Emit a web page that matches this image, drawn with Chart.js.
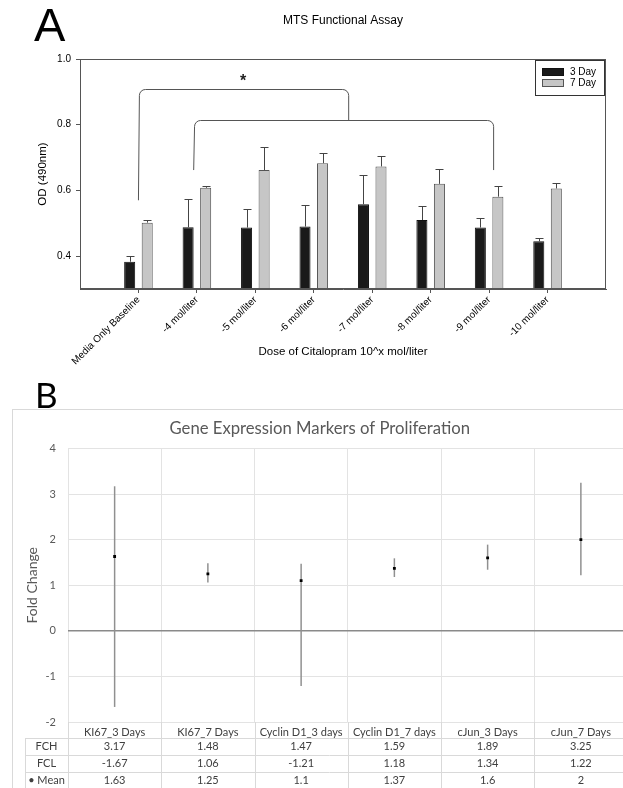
<!DOCTYPE html>
<html><head><meta charset="utf-8">
<script src="https://cdn.jsdelivr.net/npm/chart.js@4.4.1/dist/chart.umd.min.js"></script>
<style>
html,body{margin:0;padding:0;background:#fff;}
body{width:623px;height:788px;overflow:hidden;position:relative;}
#ca{position:absolute;left:0;top:0;}
#cb{position:absolute;left:12px;top:409px;}
.lt{position:absolute;line-height:1;color:#000;}
</style></head><body>
<canvas id="ca" width="623" height="380"></canvas>
<canvas id="cb" width="622" height="379"></canvas>
<div class="lt" style="left:34px;top:1px;font-family:'Liberation Sans',Arial,sans-serif;font-size:47px;">A</div>
<div class="lt" style="left:35px;top:377px;font-family:Lato,sans-serif;font-size:35px;">B</div>
<script>
// ---------- Panel A data ----------
const doseLabels = ['Media Only Baseline','-4 mol/liter','-5 mol/liter','-6 mol/liter','-7 mol/liter','-8 mol/liter','-9 mol/liter','-10 mol/liter'];
const day3Values = [0.383,0.488,0.487,0.490,0.558,0.510,0.487,0.445];
const day3Errors = [0.016,0.087,0.055,0.066,0.090,0.043,0.028,0.009];
const day7Values = [0.502,0.608,0.662,0.683,0.673,0.620,0.581,0.606];
const day7Errors = [0.009,0.006,0.071,0.032,0.032,0.045,0.032,0.016];
const yTicksA = [0.4,0.6,0.8,1.0];

// ---------- Panel B data ----------
const geneLabels = ['KI67_3 Days','KI67_7 Days','Cyclin D1_3 days','Cyclin D1_7 days','cJun_3 Days','cJun_7 Days'];
const fchValues = [3.17,1.48,1.47,1.59,1.89,3.25];
const fclValues = [-1.67,1.06,-1.21,1.18,1.34,1.22];
const meanValues = [1.63,1.25,1.1,1.37,1.6,2];

const ARIAL = "'Liberation Sans', Arial, sans-serif";
const CAL = "Lato, 'Open Sans', sans-serif";

const framePlugin = {
  id: 'frame',
  afterDraw(chart) {
    const {ctx, chartArea: ca} = chart;
    ctx.save();
    ctx.strokeStyle = '#555'; ctx.lineWidth = 1;
    ctx.strokeRect(Math.round(ca.left) + 0.5, Math.round(ca.top) + 0.5, Math.round(ca.width) - 1, Math.round(ca.height) - 1);
    ctx.restore();
  }
};

const errorBarPlugin = {
  id: 'errorBars',
  afterDatasetsDraw(chart) {
    const {ctx, scales: {y}} = chart;
    ctx.save();
    ctx.strokeStyle = '#444'; ctx.lineWidth = 1;
    chart.data.datasets.forEach((ds, i) => {
      const meta = chart.getDatasetMeta(i);
      meta.data.forEach((bar, j) => {
        const top = Math.round(y.getPixelForValue(ds.data[j].y + ds.errors[j])) + 0.5;
        const x = Math.round(bar.x) + 0.5;
        ctx.beginPath();
        ctx.moveTo(x, bar.y); ctx.lineTo(x, top);
        ctx.moveTo(x - 4, top); ctx.lineTo(x + 4, top);
        ctx.stroke();
      });
    });
    ctx.restore();
  }
};

const bracketPlugin = {
  id: 'brackets',
  afterDatasetsDraw(chart, args, opts) {
    const {ctx, scales: {x, y}} = chart;
    ctx.save();
    ctx.strokeStyle = '#555'; ctx.lineWidth = 1;
    (opts.items || []).forEach(b => {
      const x1 = x.getPixelForValue(b.x1), x2 = x.getPixelForValue(b.x2);
      const y1 = y.getPixelForValue(b.y1), y2 = y.getPixelForValue(b.y2), yt = Math.round(y.getPixelForValue(b.top)) + 0.5;
      ctx.beginPath();
      ctx.moveTo(x1, y1);
      ctx.arcTo(x1 + 1, yt, x2, yt, 6);
      ctx.arcTo(x2 + 1, yt, x2 + 1, y2, 6);
      ctx.lineTo(x2 + 1, y2);
      ctx.stroke();
    });
    if (opts.star) {
      ctx.fillStyle = '#222';
      ctx.font = 'bold 16px ' + ARIAL;
      ctx.textAlign = 'center'; ctx.textBaseline = 'alphabetic';
      ctx.fillText('*', x.getPixelForValue(opts.star.x), y.getPixelForValue(opts.star.y) + 9);
    }
    ctx.restore();
  }
};

const boxLegendPlugin = {
  id: 'boxLegend',
  afterDraw(chart) {
    const {ctx, chartArea: ca} = chart;
    const w = 69, h = 35;
    const left = Math.round(ca.right) - 2 - w, top = Math.round(ca.top) + 1;
    ctx.save();
    ctx.fillStyle = '#fff'; ctx.fillRect(left, top, w, h);
    ctx.strokeStyle = '#333'; ctx.lineWidth = 1; ctx.strokeRect(left + 0.5, top + 0.5, w, h);
    ctx.font = '10px ' + ARIAL; ctx.textBaseline = 'middle'; ctx.textAlign = 'left';
    chart.data.datasets.forEach((ds, i) => {
      const cy = top + 12 + i * 11;
      ctx.fillStyle = ds.backgroundColor; ctx.fillRect(left + 7, cy - 4, 22, 8);
      ctx.strokeStyle = ds.borderColor; ctx.strokeRect(left + 7.5, cy - 3.5, 21, 7);
      ctx.fillStyle = '#000'; ctx.fillText(ds.label, left + 35, cy);
    });
    ctx.restore();
  }
};

new Chart(document.getElementById('ca'), {
  type: 'bar',
  data: { datasets: [
    {label: '3 Day', data: day3Values.map((v, i) => ({x: i, y: v})), errors: day3Errors, backgroundColor: '#1a1a1a', borderColor: '#111', borderWidth: 1},
    {label: '7 Day', data: day7Values.map((v, i) => ({x: i, y: v})), errors: day7Errors, backgroundColor: '#c6c6c6', borderColor: '#555', borderWidth: 1}
  ]},
  options: {
    responsive: false, animation: false, devicePixelRatio: 1,
    categoryPercentage: 0.6, barPercentage: 0.63,
    layout: {padding: {left: 0, right: 17, top: 0, bottom: 0}},
    plugins: {
      legend: {display: false}, tooltip: {enabled: false},
      title: {display: true, text: 'MTS Functional Assay', fullSize: false, color: '#000', font: {family: ARIAL, size: 12, weight: 'normal'}, padding: {top: 13, bottom: 31.6}},
      brackets: {
        items: [
          {x1: 0, y1: 0.57, x2: 3.58, y2: 0.813, top: 0.908},
          {x1: 0.945, y1: 0.662, x2: 6.06, y2: 0.662, top: 0.813}
        ],
        star: {x: 1.79, y: 0.945}
      }
    },
    scales: {
      x: {
        type: 'linear', min: -1, max: 8, offset: false,
        afterBuildTicks: s => { s.ticks = doseLabels.map((_, i) => ({value: i})); },
        afterFit: s => { s.height = 91; },
        ticks: {autoSkip: false, minRotation: 45, maxRotation: 45, color: '#000', font: {family: ARIAL, size: 10}, padding: 1, callback: v => doseLabels[v]},
        grid: {display: true, offset: false, drawOnChartArea: false, drawTicks: true, tickLength: 4, color: '#555'},
        border: {display: true, color: '#555'},
        title: {display: true, text: 'Dose of Citalopram 10^x mol/liter', color: '#000', font: {family: ARIAL, size: 11.5}, padding: {top: 0, bottom: 21}}
      },
      y: {
        min: 0.3, max: 1.0,
        afterBuildTicks: s => { s.ticks = yTicksA.map(v => ({value: v})); },
        afterFit: s => { s.width = 80; },
        ticks: {color: '#000', font: {family: ARIAL, size: 10}, padding: 5, callback: v => Number(v).toFixed(1)},
        grid: {drawOnChartArea: false, tickLength: 4, color: '#555'},
        border: {color: '#555'},
        title: {display: true, text: 'OD (490nm)', color: '#000', font: {family: ARIAL, size: 11.5}, padding: {top: 36, bottom: 0}}
      }
    }
  },
  plugins: [framePlugin, errorBarPlugin, bracketPlugin, boxLegendPlugin]
});

// ---------- Panel B ----------
const outerBoxPlugin = {
  id: 'outerBox',
  beforeDraw(chart) {
    const {ctx} = chart;
    ctx.save();
    ctx.strokeStyle = '#d9d9d9'; ctx.lineWidth = 1;
    ctx.strokeRect(0.5, 0.5, chart.width + 10, chart.height + 10);
    ctx.restore();
  }
};

const rangeLinePlugin = {
  id: 'rangeLines',
  beforeDatasetsDraw(chart) {
    const {ctx} = chart;
    const hi = chart.getDatasetMeta(0).data, lo = chart.getDatasetMeta(1).data;
    ctx.save();
    ctx.strokeStyle = '#909090'; ctx.lineWidth = 1.5;
    hi.forEach((p, i) => {
      ctx.beginPath();
      ctx.moveTo(p.x, p.y); ctx.lineTo(lo[i].x, lo[i].y);
      ctx.stroke();
    });
    ctx.restore();
  }
};

const tablePlugin = {
  id: 'dataTable',
  afterDraw(chart) {
    const {ctx, chartArea: ca, scales: {x}} = chart;
    const labelRowH = 16, rowH = 16.8, tableLeft = 13;
    const rows = [['FCH', fchValues], ['FCL', fclValues], ['\u2022 Mean', meanValues]];
    const n = geneLabels.length, cw = ca.width / n;
    const t0 = ca.bottom + labelRowH;
    ctx.save();
    ctx.strokeStyle = '#d9d9d9'; ctx.lineWidth = 1;
    ctx.beginPath();
    for (let i = 0; i <= n; i++) {
      const px = Math.round(ca.left + i * cw) + 0.5;
      ctx.moveTo(px, ca.bottom); ctx.lineTo(px, chart.height);
    }
    ctx.moveTo(tableLeft + 0.5, Math.round(t0)); ctx.lineTo(tableLeft + 0.5, chart.height);
    for (let k = 0; k <= rows.length; k++) {
      const py = Math.round(t0 + k * rowH) + 0.5;
      ctx.moveTo(tableLeft, py); ctx.lineTo(chart.width, py);
    }
    ctx.stroke();
    ctx.fillStyle = '#404040';
    ctx.font = '11px ' + CAL; ctx.textAlign = 'center'; ctx.textBaseline = 'middle';
    rows.forEach((r, k) => {
      const cy = t0 + k * rowH + rowH / 2;
      ctx.fillText(r[0], (tableLeft + ca.left) / 2, cy);
      r[1].forEach((v, i) => ctx.fillText(String(v), x.getPixelForValue(i), cy));
    });
    ctx.restore();
  }
};

new Chart(document.getElementById('cb'), {
  type: 'line',
  data: { labels: geneLabels, datasets: [
    {label: 'FCH', data: fchValues, showLine: false, pointRadius: 0},
    {label: 'FCL', data: fclValues, showLine: false, pointRadius: 0},
    {label: 'Mean', data: meanValues, showLine: false, pointStyle: 'rect', pointRadius: 2, backgroundColor: '#000', borderColor: '#000', borderWidth: 0}
  ]},
  options: {
    responsive: false, animation: false, devicePixelRatio: 1,
    layout: {padding: {left: 0, right: 6.5, top: 0, bottom: 0}},
    plugins: {
      legend: {display: false}, tooltip: {enabled: false},
      title: {display: true, text: 'Gene Expression Markers of Proliferation', color: '#595959', font: {family: CAL, size: 16.7, weight: 'normal'}, padding: {top: 10, bottom: 9.4}}
    },
    scales: {
      x: {
        type: 'category', offset: true,
        grid: {offset: true, color: '#e3e3e3', drawTicks: false},
        border: {display: false},
        ticks: {color: '#404040', font: {family: CAL, size: 11}, padding: 4, autoSkip: false, maxRotation: 0},
        afterFit: s => { s.height = 66; }
      },
      y: {
        min: -2, max: 4,
        ticks: {stepSize: 1, color: '#595959', font: {family: CAL, size: 11}, padding: 12},
        grid: {drawTicks: false, color: c => c.tick.value === 0 ? '#8a8a8a' : '#e3e3e3', lineWidth: c => c.tick.value === 0 ? 1.5 : 1},
        border: {display: false},
        afterFit: s => { s.width = 56; },
        title: {display: true, text: 'Fold Change', color: '#595959', font: {family: CAL, size: 14}, padding: {top: 12, bottom: 0}}
      }
    }
  },
  plugins: [outerBoxPlugin, rangeLinePlugin, tablePlugin]
});
</script>
</body></html>
